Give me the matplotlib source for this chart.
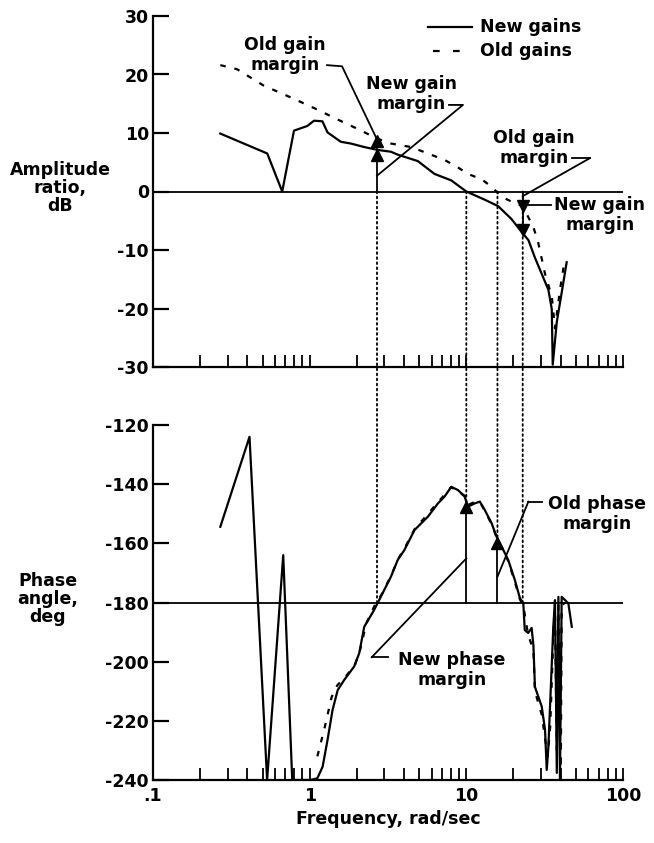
import matplotlib
matplotlib.use("Agg")
import matplotlib.pyplot as plt
from matplotlib.ticker import LogLocator, FixedLocator, FixedFormatter, NullFormatter
from matplotlib.patches import ConnectionPatch

# ---------------- data ----------------
gain_new_f = [0.269, 0.536, 0.668, 0.794, 0.966, 1.066, 1.206, 1.30, 1.58, 1.83, 2.23, 2.72,
              3.30, 3.65, 4.90, 6.27, 8.01, 10.0, 13.1, 15.96, 19.4, 22.5, 24.9, 27.4, 30.3,
              33.4, 35.1, 35.6, 37.8, 40.6, 43.7]
gain_new_db = [9.9, 6.5, 0.0, 10.4, 11.2, 12.1, 12.0, 10.1, 8.5, 8.2, 7.6, 7.1,
               6.8, 6.3, 5.2, 3.0, 1.9, 0.0, -1.4, -2.5, -4.7, -6.9, -8.3, -11.3, -14.1,
               -16.8, -20.1, -29.6, -22.3, -17.3, -12.1]

gain_old_f = [0.269, 0.344, 0.509, 0.755, 1.12, 1.51, 2.02, 2.72, 3.30, 4.44, 5.68, 7.26,
              8.85, 10.25, 12.5, 14.5, 16.8, 20.4, 22.9, 26.8, 28.8, 31.8, 35.1, 36.8,
              39.6, 41.7]
gain_old_db = [21.6, 20.9, 18.1, 16.1, 14.0, 12.3, 10.7, 9.0, 8.2, 7.6, 6.5, 5.4,
               4.1, 3.0, 2.1, 0.8, -0.9, -2.0, -2.5, -6.1, -8.8, -14.1, -17.9, -23.4,
               -16.8, -13.0]

phase_new_f = [0.269, 0.413, 0.535, 0.678, 0.774, 1.01, 1.12, 1.21, 1.30, 1.40, 1.51, 1.66,
               1.92, 2.07, 2.23, 2.58, 2.85, 3.30, 3.65, 4.02, 4.67, 5.68, 6.59, 7.26, 8.01,
               8.85, 9.75, 10.25, 11.3, 12.2, 13.1, 14.5, 15.6, 16.8, 18.5, 20.4, 22.0,
               23.1, 23.6, 24.8, 26.1, 26.8, 27.4, 30.3, 31.8, 32.6, 33.4, 35.9, 36.8,
               37.8, 38.7, 39.6, 40.6, 42.7, 44.8, 47.1]
phase_new_deg = [-154.4, -124.0, -240.0, -164.0, -240.0, -240.0, -239.4, -235.5, -226.5,
                 -216.3, -209.6, -206.2, -201.7, -197.2, -188.2, -182.5, -178.0, -171.3,
                 -165.6, -162.3, -155.5, -151.0, -146.5, -144.2, -140.9, -142.0, -144.2,
                 -147.6, -146.5, -145.9, -148.7, -153.2, -157.8, -161.1, -165.6, -172.4,
                 -178.6, -180.3, -189.3, -190.3, -188.6, -194.4, -208.5, -215.2, -223.1,
                 -236.6, -228.8, -188.2, -179.2, -237.6, -178.1, -240.0, -178.1, -179.2,
                 -180.3, -188.2]

phase_old_f = [1.12, 1.25, 1.38, 1.50, 1.70, 1.95, 2.10, 2.30, 2.60, 2.90, 3.30, 3.70, 4.00,
               4.70, 5.70, 6.60, 7.30, 8.00, 8.90, 9.80, 10.3, 11.3, 12.2, 13.1, 14.5, 15.6,
               16.8, 18.5, 20.4, 22.0, 23.1, 24.8, 26.8, 27.4, 30.3, 31.8, 33.0, 34.3, 35.9,
               36.8, 37.8, 38.7, 40.1, 40.6, 42.7]
phase_old_deg = [-232, -222, -212, -208, -205, -201, -196, -187, -181, -177, -171, -165,
                 -162, -155, -150, -146, -143.5, -141, -142.5, -144, -147, -146, -146, -149,
                 -153.5, -158, -161.5, -166, -173, -179, -181, -191, -196, -210, -218, -226,
                 -232, -222, -192, -182, -230, -181, -236, -181, -180]

# margin markers
phase_cross_f = [2.69, 22.9]        # phase crossover frequencies
gain_cross_f = [10.0, 15.8]         # gain crossover frequencies (new, old)
gm_new_db = [6.3, -6.6]
gm_old_db = [8.6, -2.5]
pm_phase = [-147.6, -160.0]         # phase at new / old gain crossover

xticks = [0.1, 1, 10, 100]
xtick_labels = ['.1', '1', '10', '100']
gain_ticks = [30, 20, 10, 0, -10, -20, -30]
phase_ticks = [-120, -140, -160, -180, -200, -220, -240]

# ---------------- figure ----------------
plt.rcParams['font.family'] = ['DejaVu Sans']
plt.rcParams['font.weight'] = 'bold'
FS = 12.5
W, H = 654, 843
fig = plt.figure(figsize=(W / 100, H / 100), dpi=100)

def fx(px):
    return px / W

def fy(py):
    return 1 - py / H

ax1 = fig.add_axes([fx(153), fy(367), fx(623) - fx(153), fy(16) - fy(367)])
ax2 = fig.add_axes([fx(153), fy(780), fx(623) - fx(153), fy(425) - fy(780)])

LW = 1.6
for ax in (ax1, ax2):
    ax.set_xscale('log')
    ax.set_xlim(0.1, 100)
    for s in ('top', 'right'):
        ax.spines[s].set_visible(False)
    for s in ('left', 'bottom'):
        ax.spines[s].set_linewidth(1.6)
    ax.xaxis.set_major_locator(LogLocator(base=10))
    ax.xaxis.set_minor_locator(LogLocator(base=10, subs=range(2, 10)))
    ax.xaxis.set_minor_formatter(NullFormatter())
    ax.tick_params(axis='x', which='both', direction='in', length=8.5, width=1.3)
    ax.tick_params(axis='y', which='both', direction='in', length=11.5, width=1.6,
                   labelsize=FS, pad=3)
    ax.patch.set_alpha(0)

# ---------- top panel ----------
ax1.set_ylim(-30, 30)
ax1.yaxis.set_major_locator(FixedLocator(gain_ticks))
ax1.set_yticklabels([str(t) for t in gain_ticks], fontweight='bold')
ax1.xaxis.set_major_formatter(NullFormatter())
ax1.axhline(0, color='black', lw=1.3)
ax1.plot(gain_new_f, gain_new_db, color='black', lw=LW, solid_joinstyle='round')
ax1.plot(gain_old_f, gain_old_db, color='black', lw=LW, linestyle=(0, (2.5, 4)))

# gain margin verticals and markers
ax1.plot([phase_cross_f[0]] * 2, [0, gm_old_db[0]], color='black', lw=1.3)
ax1.plot([phase_cross_f[1]] * 2, [0, gm_new_db[1]], color='black', lw=1.3)
ax1.plot([phase_cross_f[0]] * 2, [gm_new_db[0], gm_old_db[0]], ls='none', marker='^',
         ms=8, color='black')
ax1.plot([phase_cross_f[1]] * 2, [gm_old_db[1], gm_new_db[1]], ls='none', marker='v',
         ms=8, color='black')

# legend
ax1.plot([5.69, 10.87], [28.2, 28.2], color='black', lw=LW)
ax1.plot([6.13, 9.38], [24.1, 24.1], color='black', lw=LW, linestyle=(0, (3, 6)))
ax1.text(12.2, 28.2, 'New gains', fontsize=FS, fontweight='bold', va='center', ha='left')
ax1.text(12.2, 24.1, 'Old gains', fontsize=FS, fontweight='bold', va='center', ha='left')

# annotations top
ann = dict(fontsize=FS, fontweight='bold', ha='center', va='center', linespacing=1.15)
ax1.text(0.696, 23.4, 'Old gain\nmargin', **ann)
ax1.plot([1.291, 1.609, 2.69], [21.6, 21.4, 8.9], color='black', lw=1.3)
ax1.text(4.44, 16.6, 'New gain\nmargin', **ann)
ax1.plot([7.75, 9.52, 2.69], [14.8, 14.8, 2.7], color='black', lw=1.3)
ax1.text(27.0, 7.5, 'Old gain\nmargin', **ann)
ax1.plot([47.2, 61.5], [5.7, 5.7], color='black', lw=1.3)
ax1.plot([61.5, 22.9], [5.7, -0.8], color='black', lw=1.3)
ax1.plot([24.0, 34.7], [-2.3, -2.3], color='black', lw=1.3)
ax1.text(71.3, -4.0, 'New gain\nmargin', clip_on=False, **ann)

# ---------- bottom panel ----------
ax2.set_ylim(-240, -120)
ax2.yaxis.set_major_locator(FixedLocator(phase_ticks))
ax2.set_yticklabels([str(t) for t in phase_ticks], fontweight='bold')
ax2.xaxis.set_major_locator(FixedLocator(xticks))
ax2.xaxis.set_major_formatter(FixedFormatter(xtick_labels))
ax2.tick_params(axis='x', which='major', labelsize=FS, pad=5)
for lab in ax2.get_xticklabels():
    lab.set_fontweight('bold')
ax2.axhline(-180, color='black', lw=1.3)
ax2.plot(phase_old_f, phase_old_deg, color='black', lw=LW, linestyle=(0, (2.5, 4)))
ax2.plot(phase_new_f, phase_new_deg, color='black', lw=LW, solid_joinstyle='round')

ax2.plot([gain_cross_f[0]] * 2, [-180, pm_phase[0]], color='black', lw=1.3)
ax2.plot([gain_cross_f[1]] * 2, [-180, pm_phase[1]], color='black', lw=1.3)
ax2.plot(gain_cross_f, pm_phase, ls='none', marker='^', ms=8, color='black')

ax2.text(68.2, -150.1, 'Old phase\nmargin', clip_on=False, **ann)
ax2.plot([24.9, 30.3], [-145.9, -145.9], color='black', lw=1.3)
ax2.plot([24.9, 15.8], [-145.9, -171.3], color='black', lw=1.3)
ax2.text(8.10, -202.8, 'New phase\nmargin', **ann)
ax2.plot([2.49, 3.18], [-198.5, -198.5], color='black', lw=1.3)
ax2.plot([2.49, 10.0], [-198.5, -165.1], color='black', lw=1.3)

ax2.set_xlabel('Frequency, rad/sec', fontsize=FS, fontweight='bold', labelpad=4)

# dotted connectors between panels
dot_ends = [-180.0, pm_phase[0], pm_phase[1], -180.0]
dot_f = [phase_cross_f[0], gain_cross_f[0], gain_cross_f[1], phase_cross_f[1]]
for f, yend in zip(dot_f, dot_ends):
    con = ConnectionPatch(xyA=(f, 0), coordsA=ax1.transData, xyB=(f, yend),
                          coordsB=ax2.transData, linestyle=(0, (1, 1.8)), lw=1.3,
                          color='black')
    fig.add_artist(con)

# axis titles
fig.text(fx(60), fy(188), 'Amplitude\nratio,\ndB', fontsize=FS, fontweight='bold',
         ha='center', va='center', linespacing=1.0)
fig.text(fx(48), fy(599), 'Phase\nangle,\ndeg', fontsize=FS, fontweight='bold',
         ha='center', va='center', linespacing=1.0)

fig.savefig('out.png', dpi=100, facecolor='white')
